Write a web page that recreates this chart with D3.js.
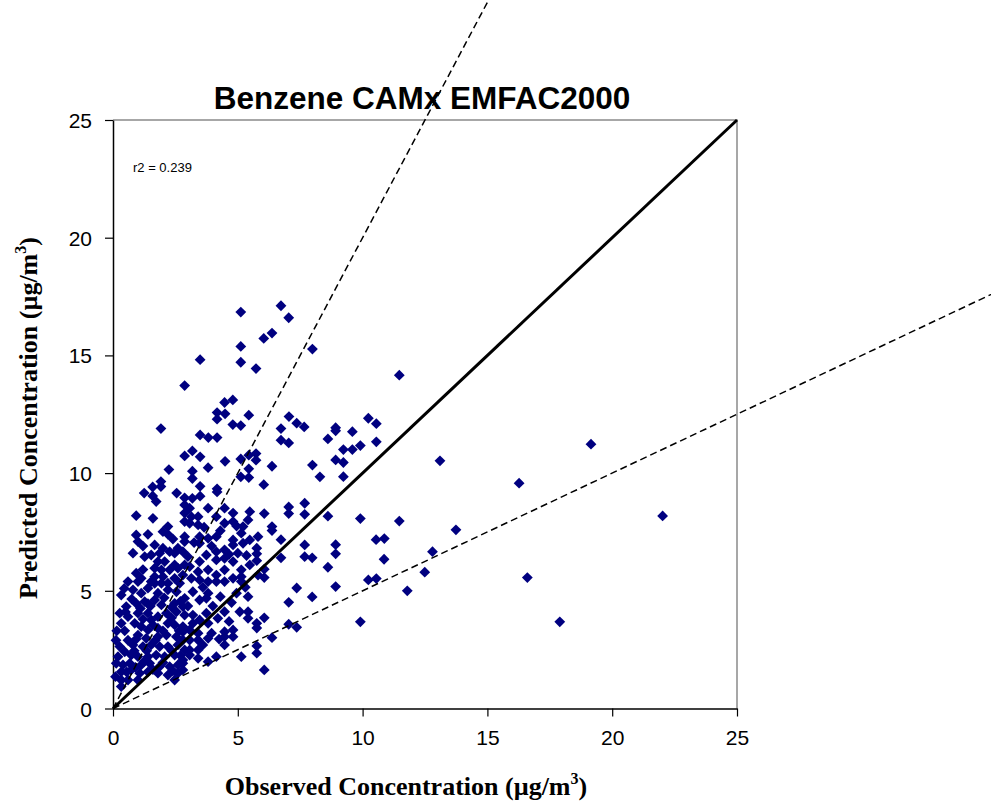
<!DOCTYPE html>
<html><head><meta charset="utf-8">
<script src="https://cdn.jsdelivr.net/npm/d3@7"></script>
<style>body{margin:0;background:#fff}svg{display:block}</style>
</head><body>
<svg id="c" width="991" height="802"></svg>
<script>
const chartTitle = "Benzene CAMx EMFAC2000";
const xTicks = [0, 5, 10, 15, 20, 25];
const yTicks = [0, 5, 10, 15, 20, 25];
const r2Label = "r2 = 0.239";
const refSlopes = [2, 0.5];
// [observed, predicted] in µg/m3
const outliers = [[19.15,11.23],[16.27,9.57],[22.02,8.18],[16.6,5.56],[17.9,3.68],[13.1,10.52],[13.74,7.59],[12.8,6.66],[12.49,5.79],[11.79,5.0],[11.47,7.96],[9.91,3.68],[9.91,8.07],[10.54,7.17],[10.87,7.22],[10.86,6.34],[10.23,5.46],[10.55,5.52],[8.61,8.17],[7.68,8.72],[7.68,8.25],[7.68,6.95],[8.92,6.96],[8.92,6.57],[7.68,6.45],[7.98,6.4],[8.61,6.0],[8.92,5.18],[7.98,4.74]];
const upperRight = [[7.99,15.27],[11.47,14.16],[10.23,12.33],[10.55,12.1],[7.66,11.96],[8.92,11.93],[8.92,11.8],[9.59,11.76],[8.61,11.45],[10.55,11.33],[9.91,11.17],[9.23,11.0],[9.59,11.0],[7.99,10.34],[8.29,9.84],[8.92,10.56],[9.23,10.45],[9.23,9.85]];
const upperLeft = [[4.47,13.0],[4.8,13.11],[4.17,12.57],[4.49,12.52],[4.17,12.29],[4.8,12.06],[5.12,12.02],[5.44,12.46],[1.92,11.89],[3.49,11.62],[3.82,11.51],[4.17,11.51],[2.87,10.73],[3.18,10.94],[3.49,10.69],[4.49,10.5],[5.12,10.6],[5.44,10.76],[5.73,10.83],[5.73,10.55],[5.44,10.18],[5.12,9.84],[5.44,9.81],[6.04,9.51],[6.37,10.29],[7.05,12.4],[7.36,12.12],[6.73,11.89],[6.73,11.4],[7.04,11.28],[2.24,10.15],[3.18,10.08],[3.18,9.77],[3.49,9.44],[3.81,10.23],[1.92,9.64],[1.92,9.43],[1.59,9.41],[1.25,9.15],[1.59,9.03],[2.55,9.15],[2.87,8.95],[3.18,8.93],[3.49,9.02],[4.17,9.33],[4.17,9.2],[2.87,13.72],[3.49,14.82],[5.12,14.71],[5.73,14.44],[5.12,15.38],[6.04,15.72],[6.37,15.95],[6.73,17.11],[7.04,16.6],[5.12,16.84]];
const midBand = [[6.06,8.28],[7.04,8.56],[7.04,8.28],[6.37,7.73],[6.37,7.56],[6.73,7.17],[6.73,6.4],[6.06,5.92],[6.06,5.56],[5.76,6.81],[5.76,6.57],[5.76,6.28],[7.36,5.12],[7.04,4.51],[6.06,3.85],[5.76,3.62],[5.76,3.42],[7.04,3.58],[7.36,3.45],[6.37,3.01],[5.76,2.66],[5.76,2.35],[6.06,1.64]];
const clusterHighLeft = [[1.73,8.79],[2.87,8.65],[2.87,8.3],[2.87,7.94],[0.93,8.19],[1.6,8.08],[2.2,7.73],[2.0,7.51],[2.2,7.4],[0.93,7.37],[1.0,7.09],[1.67,6.95],[2.6,6.81],[2.87,7.09],[2.87,7.3],[0.8,6.6],[1.27,6.45],[1.53,6.52],[1.87,6.6],[2.0,6.81],[2.27,6.66],[2.47,6.6],[2.8,6.66],[1.8,6.24],[2.07,6.24],[2.47,6.1],[1.67,5.96],[1.94,5.89],[2.27,5.89],[2.6,5.96],[2.87,6.1],[0.93,5.75],[1.13,5.53],[1.67,5.6],[2.0,5.6],[2.47,5.53],[2.8,5.67],[0.6,5.39],[1.0,5.39],[1.67,5.32],[2.2,5.32],[2.67,5.32],[1.2,6.9],[1.4,7.4],[1.2,5.9],[2.4,7.2]];
const clusterHighRight = [[3.07,8.51],[3.81,8.51],[4.47,8.51],[4.81,8.3],[5.48,8.36],[3.14,8.15],[3.41,8.15],[4.14,8.15],[4.81,7.94],[5.41,8.01],[3.07,7.87],[3.41,7.8],[4.47,7.87],[5.21,7.73],[5.14,7.45],[3.47,7.3],[3.81,7.23],[4.14,7.3],[4.81,7.16],[5.81,7.3],[5.48,7.16],[3.47,7.02],[4.47,6.74],[4.81,6.95],[5.21,7.02],[3.74,6.52],[4.14,6.66],[3.47,6.24],[4.14,6.31],[4.47,6.38],[4.81,6.24],[5.48,6.1],[5.14,5.89],[3.07,6.03],[3.41,5.81],[3.81,5.89],[4.14,5.67],[4.47,5.89],[3.14,5.53],[3.47,5.46],[3.81,5.39],[4.47,5.39],[4.81,5.53],[5.14,5.6],[5.81,5.67],[3.25,7.05],[3.95,6.9],[4.3,7.55],[4.65,6.55],[5.0,6.6],[5.35,6.5],[4.95,7.75],[3.0,6.45],[3.65,7.7]];
const clusterLowLeft = [[1.53,5.39],[1.94,5.32],[0.33,4.82],[0.8,5.04],[1.13,4.9],[1.4,5.11],[1.8,4.9],[2.2,5.04],[2.54,4.96],[0.53,4.33],[0.93,4.47],[1.27,4.54],[1.67,4.61],[1.94,4.4],[2.47,4.47],[2.87,4.68],[0.27,4.05],[0.6,3.9],[1.0,4.05],[1.4,4.05],[1.53,3.76],[1.8,3.9],[2.14,4.05],[2.54,4.11],[2.87,3.97],[0.33,3.62],[0.87,3.62],[1.13,3.48],[1.4,3.34],[1.8,3.41],[2.2,3.62],[2.47,3.55],[2.8,3.48],[1.0,3.12],[1.33,2.98],[1.8,3.05],[2.14,3.12],[2.54,3.05],[2.8,2.91],[0.27,2.63],[0.8,2.7],[1.2,2.63],[1.53,2.7],[1.87,2.63],[2.2,2.63],[2.6,2.7],[2.87,2.49],[0.2,2.2],[0.47,2.41],[0.73,2.27],[1.0,2.2],[1.4,2.2],[1.73,2.27],[2.07,2.2],[2.47,2.27],[2.8,2.06],[0.13,1.92],[0.4,1.85],[0.67,1.92],[1.13,1.85],[1.47,1.92],[1.87,1.78],[2.27,1.78],[2.6,1.85],[0.33,1.56],[0.73,1.64],[1.07,1.5],[1.4,1.56],[1.8,1.5],[2.2,1.42],[2.6,1.5],[0.33,1.21],[0.6,1.21],[1.0,1.21],[2.47,1.21],[0.33,0.93],[0.12,2.9],[0.15,3.3],[0.1,1.35],[0.47,3.3],[0.6,2.9],[0.93,2.95],[1.2,3.8],[1.6,3.55],[2.0,3.3],[2.35,3.85],[2.65,3.3],[0.5,4.1],[0.75,4.65],[1.1,4.25],[1.5,4.35],[2.05,4.7],[2.35,4.3],[2.7,4.55],[0.45,5.1],[0.55,1.55],[0.9,1.75],[1.25,2.0],[1.6,1.65],[2.0,1.95],[2.4,1.6],[0.85,2.45],[1.35,2.45],[1.7,2.9],[2.35,2.45],[2.7,2.25],[1.4,4.45]];
const clusterLowRight = [[4.14,5.39],[5.14,5.39],[3.2,4.96],[3.81,4.9],[3.47,4.61],[3.74,4.68],[2.8,4.33],[5.41,4.75],[4.47,4.11],[5.08,4.11],[5.41,4.11],[5.41,3.83],[3.2,3.97],[3.74,4.05],[4.2,3.83],[3.2,3.62],[3.47,3.76],[3.81,3.62],[2.8,3.26],[3.07,3.34],[3.41,3.2],[3.07,2.91],[3.41,2.91],[3.81,2.98],[4.47,3.26],[4.81,3.34],[4.47,3.05],[4.81,3.05],[4.47,2.7],[3.07,2.49],[3.41,2.49],[3.07,2.27],[3.41,2.13],[3.81,1.99],[4.14,2.2],[5.14,2.2],[2.8,1.92],[2.8,1.64],[3.6,2.7],[3.95,3.2],[4.25,2.95],[4.65,3.7],[4.0,4.35],[4.3,4.75],[4.75,4.5],[3.0,4.35],[3.6,5.15],[4.95,4.9],[5.3,5.15]];

const samples = [].concat(outliers, upperRight, upperLeft, midBand, clusterHighLeft, clusterHighRight, clusterLowLeft, clusterLowRight);

const svg = d3.select("#c");
const x = d3.scaleLinear().domain([0, 25]).range([113, 737]);
const y = d3.scaleLinear().domain([0, 25]).range([708.5, 120]);

// plot frame (top/right grey)
svg.append("path").attr("d", `M${x(0)},${y(25)}H${x(25)}V${y(0)}`)
  .attr("fill", "none").attr("stroke", "#8a8a8a").attr("stroke-width", 1.5);

// axes
const xAxis = svg.append("g").attr("transform", `translate(0,${y(0)})`)
  .call(d3.axisBottom(x).tickValues(xTicks).tickSize(8).tickPadding(14).tickSizeOuter(0));
const yAxis = svg.append("g").attr("transform", `translate(${x(0)},0)`)
  .call(d3.axisLeft(y).tickValues(yTicks).tickSize(8).tickPadding(13).tickSizeOuter(0));
[xAxis, yAxis].forEach(g => {
  g.select(".domain").attr("stroke", "#000").attr("stroke-width", 1.5);
  g.selectAll(".tick line").attr("stroke", "#000").attr("stroke-width", 1.2);
  g.selectAll("text").attr("font-family", "Liberation Sans, Arial, sans-serif")
    .attr("font-size", 21).attr("fill", "#000");
});
yAxis.selectAll("text").attr("dy", "0.36em");

// points
const diamond = "M0,-5.4L5.4,0L0,5.4L-5.4,0Z";
svg.append("g").selectAll("path").data(samples).join("path")
  .attr("d", diamond)
  .attr("transform", d => `translate(${x(d[0])},${y(d[1])})`)
  .attr("fill", "#000080");

// reference lines
svg.append("line").attr("x1", x(0)).attr("y1", y(0)).attr("x2", x(25)).attr("y2", y(25))
  .attr("stroke", "#000").attr("stroke-width", 3);
refSlopes.forEach(s => {
  const xe = s > 1 ? 20 : 40;
  svg.append("line").attr("x1", x(0)).attr("y1", y(0)).attr("x2", x(xe)).attr("y2", y(xe * s))
    .attr("stroke", "#000").attr("stroke-width", 1.5).attr("stroke-dasharray", "7,4");
});

// texts
svg.append("text").attr("x", 133).attr("y", 172).text(r2Label)
  .attr("font-family", "Liberation Sans, Arial, sans-serif").attr("font-size", 13);

svg.append("text").attr("x", 422).attr("y", 109).attr("text-anchor", "middle")
  .attr("font-family", "Liberation Sans, Arial, sans-serif").attr("font-weight", "bold")
  .attr("font-size", 31.5).text(chartTitle);

const xl = svg.append("text").attr("x", 406).attr("y", 795).attr("text-anchor", "middle")
  .attr("font-family", "Liberation Serif, Times New Roman, serif").attr("font-weight", "bold")
  .attr("font-size", 26);
xl.append("tspan").text("Observed Concentration (µg/m");
xl.append("tspan").attr("dy", -11).attr("font-size", 16).text("3");
xl.append("tspan").attr("dy", 11).text(")");

const yl = svg.append("text").attr("transform", "translate(37,418) rotate(-90)").attr("text-anchor", "middle")
  .attr("font-family", "Liberation Serif, Times New Roman, serif").attr("font-weight", "bold")
  .attr("font-size", 26);
yl.append("tspan").text("Predicted Concentration (µg/m");
yl.append("tspan").attr("dy", -11).attr("font-size", 16).text("3");
yl.append("tspan").attr("dy", 11).text(")");
</script>
</body></html>
